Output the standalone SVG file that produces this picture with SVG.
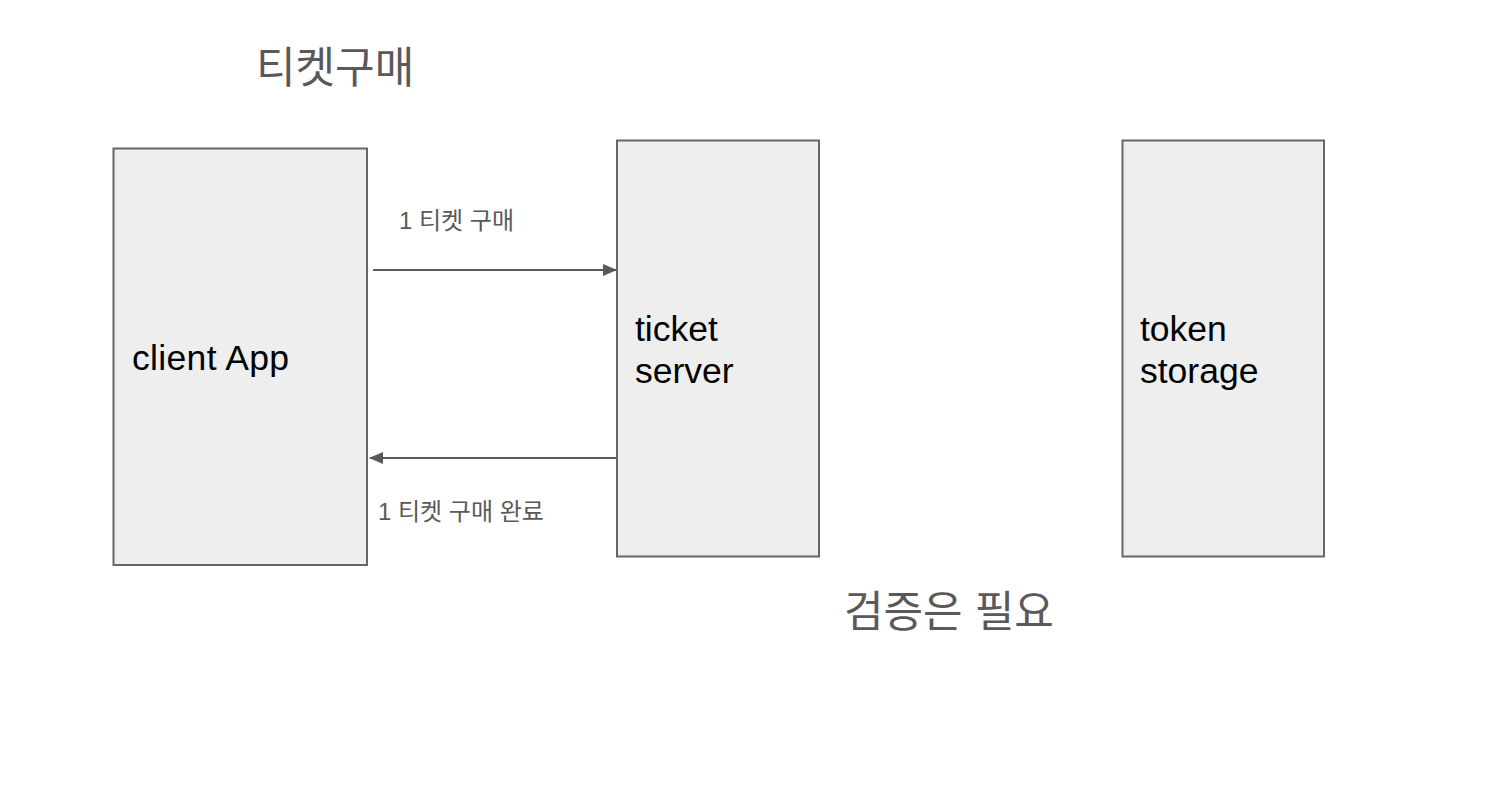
<svg xmlns="http://www.w3.org/2000/svg" width="1510" height="788" viewBox="0 0 1510 788">
<defs>
<style>
.box{fill:#eeeeee;stroke:#666666;stroke-width:2}
.lbl{font-family:"Liberation Sans",Arial,sans-serif;font-size:35.5px;fill:#000000}
.ko{font-family:"Liberation Sans","Noto Sans CJK KR",sans-serif;fill:#595959}
.conn{stroke:#595959;stroke-width:2;fill:none}
</style>
<marker id="ah" viewBox="0 0 14 12" refX="13" refY="6" markerWidth="14" markerHeight="12" markerUnits="userSpaceOnUse" orient="auto">
<path d="M0,0 L14,6 L0,12 Z" fill="#595959"/>
</marker>
</defs>
<rect width="1510" height="788" fill="#ffffff"/>
<g id="title"><text class="ko" x="256" y="83" font-size="43">티켓구매</text></g>
<g id="client-app">
<rect class="box" x="113.5" y="148.5" width="253.5" height="416.5"/>
<text class="lbl" x="132" y="370" textLength="157">client App</text>
</g>
<g id="ticket-server">
<rect class="box" x="617" y="140.5" width="202" height="416"/>
<text class="lbl" x="635" y="341">ticket</text>
<text class="lbl" x="635" y="383">server</text>
</g>
<g id="token-storage">
<rect class="box" x="1122.5" y="140.5" width="201.5" height="416"/>
<text class="lbl" x="1140" y="341">token</text>
<text class="lbl" x="1140" y="383">storage</text>
</g>
<g id="connectors">
<line class="conn" x1="373" y1="270" x2="616" y2="270" marker-end="url(#ah)"/>
<line class="conn" x1="616" y1="458" x2="370" y2="458" marker-end="url(#ah)"/>
</g>
<g id="labels">
<text class="ko" x="399" y="229" font-size="24">1 티켓 구매</text>
<text class="ko" x="378" y="520" font-size="24">1 티켓 구매 완료</text>
<text class="ko" x="844" y="627" font-size="43">검증은 필요</text>
</g>
</svg>
